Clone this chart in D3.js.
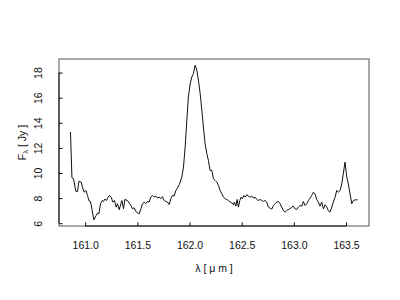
<!DOCTYPE html>
<html><head><meta charset="utf-8">
<script src="https://cdn.jsdelivr.net/npm/d3@7"></script>
<style>html,body{margin:0;padding:0;background:#fff;}svg{display:block;}</style>
</head><body>
<script>
const wavelength = [160.859,160.873,160.888,160.911,160.926,160.940,160.962,160.974,160.990,161.007,161.022,161.038,161.051,161.067,161.083,161.105,161.118,161.131,161.147,161.163,161.175,161.189,161.204,161.217,161.233,161.249,161.265,161.281,161.297,161.309,161.326,161.342,161.352,161.367,161.380,161.405,161.438,161.453,161.469,161.486,161.501,161.517,161.534,161.549,161.565,161.581,161.597,161.613,161.629,161.645,161.661,161.677,161.693,161.709,161.725,161.740,161.757,161.773,161.788,161.805,161.821,161.836,161.853,161.869,161.884,161.900,161.910,161.926,161.942,161.958,161.974,161.989,162.006,162.022,162.037,162.054,162.070,162.085,162.102,162.118,162.133,162.149,162.166,162.181,162.197,162.214,162.229,162.245,162.262,162.277,162.293,162.309,162.325,162.341,162.357,162.373,162.389,162.405,162.421,162.430,162.444,162.456,162.468,162.482,162.494,162.507,162.520,162.533,162.549,162.564,162.580,162.597,162.612,162.628,162.645,162.660,162.676,162.693,162.708,162.724,162.740,162.756,162.772,162.788,162.804,162.820,162.836,162.852,162.868,162.884,162.899,162.916,162.932,162.947,162.964,162.980,162.995,163.011,163.028,163.043,163.059,163.076,163.091,163.107,163.124,163.139,163.155,163.171,163.187,163.203,163.219,163.235,163.251,163.267,163.283,163.299,163.315,163.330,163.347,163.363,163.378,163.395,163.411,163.426,163.443,163.459,163.474,163.490,163.507,163.522,163.538,163.555,163.570,163.586,163.610];
const flux = [13.26,9.62,9.54,8.53,8.53,9.33,9.27,8.87,8.47,8.61,8.21,7.76,7.73,7.01,6.27,6.61,6.80,6.75,7.55,7.81,7.73,7.92,7.81,8.03,8.21,8.08,7.68,7.81,7.28,7.55,7.07,7.55,7.81,7.15,7.89,7.81,7.41,7.15,7.23,6.93,6.83,6.75,7.15,7.55,7.68,7.55,7.73,7.68,8.08,8.21,8.08,8.16,8.00,8.08,7.95,8.11,7.81,7.73,7.68,7.49,7.95,8.21,8.16,8.61,8.79,9.06,9.27,9.67,10.47,12.07,14.20,16.06,17.12,17.65,17.92,18.59,18.19,17.39,16.33,14.99,13.66,12.34,11.54,11.00,10.20,10.20,9.54,9.41,9.27,9.01,8.61,8.34,8.08,7.95,7.89,7.81,7.68,7.63,7.47,7.68,7.36,7.89,7.28,7.81,8.08,7.95,8.21,8.08,8.27,8.16,8.08,8.16,8.00,8.08,7.89,7.81,7.89,7.81,7.73,7.81,7.68,7.28,7.20,7.12,7.41,7.55,7.68,7.73,7.55,7.28,7.01,6.88,7.01,7.09,7.15,7.28,7.36,7.15,7.09,7.28,7.41,7.36,7.73,7.41,7.55,7.81,8.00,8.21,8.47,8.34,7.89,7.68,7.36,7.68,7.15,7.47,7.30,7.00,6.88,7.28,7.68,8.08,8.61,8.47,8.61,9.14,9.94,10.87,9.67,9.14,8.34,7.55,7.81,7.86,7.86];
const xTicks = [161.0,161.5,162.0,162.5,163.0,163.5];
const yTicks = [6,8,10,12,14,16,18];
const xTitle = "λ [ μ m ]";

const W = 400, H = 300;
const box = {left: 59, right: 369, top: 59, bottom: 226};
const font = "'Liberation Sans', Arial, Helvetica, sans-serif";

const svg = d3.select("body").append("svg").attr("width", W).attr("height", H);

const xExt = d3.extent(wavelength), yExt = d3.extent(flux);
const xPad = (xExt[1]-xExt[0])*0.04, yPad = (yExt[1]-yExt[0])*0.04;
const x = d3.scaleLinear().domain([xExt[0]-xPad, xExt[1]+xPad]).range([box.left, box.right]);
const y = d3.scaleLinear().domain([yExt[0]-yPad, yExt[1]+yPad]).range([box.bottom, box.top]);

// data line
const line = d3.line().x((d,i)=>x(wavelength[i])).y(d=>y(d));
svg.append("path").datum(flux).attr("d", line)
  .attr("fill","none").attr("stroke","#111").attr("stroke-width",1).attr("stroke-linejoin","round");

// box
svg.append("rect").attr("x", box.left).attr("y", box.top)
  .attr("width", box.right-box.left).attr("height", box.bottom-box.top)
  .attr("fill","none").attr("stroke","#555").attr("stroke-width",1);

// axes
const xAxis = d3.axisBottom(x).tickValues(xTicks).tickFormat(d3.format(".1f")).tickSizeInner(-3.6).tickSizeOuter(0).tickPadding(0);
const gx = svg.append("g").attr("transform", `translate(0,${box.bottom})`).call(xAxis);
gx.select(".domain").attr("d", `M${x(xTicks[0])},0H${x(xTicks[xTicks.length-1])}`).attr("stroke","#111");
gx.selectAll(".tick line").attr("stroke","#111");
gx.selectAll(".tick text").attr("y", 23).attr("dy", null).attr("font-family", font).attr("font-size", "10.5px").attr("fill","#111");

const yAxis = d3.axisLeft(y).tickValues(yTicks).tickFormat(d3.format("d")).tickSizeInner(-3.6).tickSizeOuter(0);
const gy = svg.append("g").attr("transform", `translate(${box.left},0)`).call(yAxis);
gy.select(".domain").attr("d", `M0,${y(yTicks[0])}V${y(yTicks[yTicks.length-1])}`).attr("stroke","#111");
gy.selectAll(".tick line").attr("stroke","#111");
gy.selectAll(".tick text").attr("x", null).attr("dy", null)
  .attr("transform", "translate(-17,0) rotate(-90)")
  .attr("text-anchor","middle").attr("font-family", font).attr("font-size","10.5px").attr("fill","#111");

// titles
svg.append("text").attr("x", (box.left+box.right)/2).attr("y", 272)
  .attr("text-anchor","middle").attr("font-family", font).attr("font-size","10.5px").attr("fill","#111")
  .text(xTitle);

const yt = svg.append("text").attr("transform", `translate(26,${(box.top+box.bottom)/2}) rotate(-90)`)
  .attr("text-anchor","middle").attr("font-family", font).attr("font-size","10.5px").attr("fill","#111");
yt.append("tspan").text("F");
yt.append("tspan").attr("font-size","7.5px").attr("dy", 2).text("λ");
yt.append("tspan").attr("dy", -2).text(" [ Jy ]");
</script>
</body></html>
